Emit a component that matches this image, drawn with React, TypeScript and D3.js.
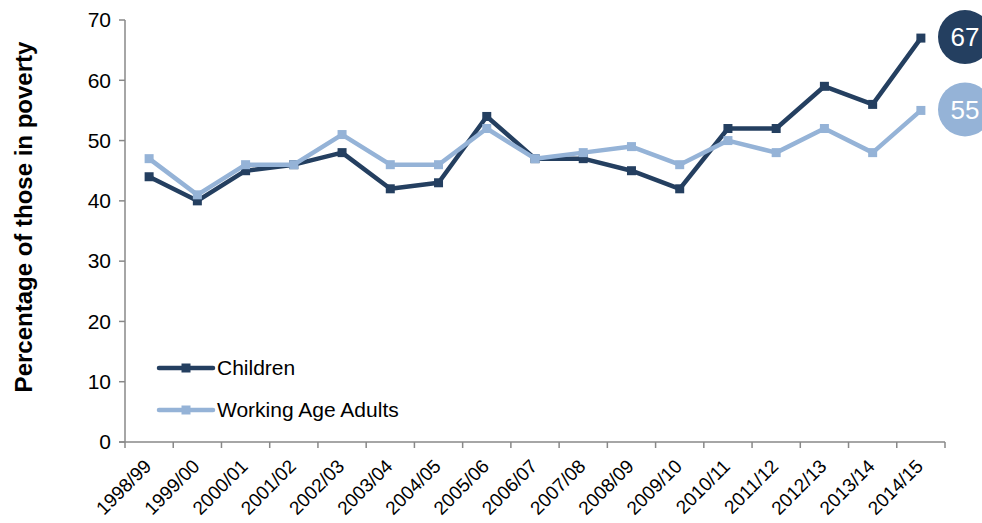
import * as d3 from 'd3';

const years = [
  '1998/99', '1999/00', '2000/01', '2001/02', '2002/03', '2003/04', '2004/05', '2005/06', '2006/07',
  '2007/08', '2008/09', '2009/10', '2010/11', '2011/12', '2012/13', '2013/14', '2014/15',
];
const children = [44, 40, 45, 46, 48, 42, 43, 54, 47, 47, 45, 42, 52, 52, 59, 56, 67];
const adults = [47, 41, 46, 46, 51, 46, 46, 52, 47, 48, 49, 46, 50, 48, 52, 48, 55];
const yTicks = [0, 10, 20, 30, 40, 50, 60, 70];

const DARK = '#243f60';
const LIGHT = '#95b3d7';

const series = [
  { name: 'Children', values: children, color: DARK },
  { name: 'Working Age Adults', values: adults, color: LIGHT },
];

export default function App() {
  const width = 982;
  const height = 523;
  const x = d3.scaleBand<string>().domain(years).range([125, 945]);
  const y = d3.scaleLinear().domain([0, 70]).range([442, 20]);
  const cx = (d: string) => (x(d) ?? 0) + x.bandwidth() / 2;
  const line = d3
    .line<number>()
    .x((_, i) => cx(years[i]))
    .y((v) => y(v));
  const font = '"Liberation Sans", Arial, sans-serif';

  return (
    <svg
      width={width}
      height={height}
      style={{ position: 'absolute', left: 0, top: 0, background: '#fff' }}
      fontFamily={font}
    >
      {/* y axis */}
      <line x1={125} x2={125} y1={y(70)} y2={y(0)} stroke="#888" strokeWidth={1.5} />
      {yTicks.map((t) => (
        <g key={t}>
          <line x1={119} x2={125} y1={y(t)} y2={y(t)} stroke="#888" strokeWidth={1.5} />
          <text x={111} y={y(t)} dy="0.35em" textAnchor="end" fontSize={21} fill="#000">
            {t}
          </text>
        </g>
      ))}
      <text
        transform={`translate(24,217) rotate(-90)`}
        textAnchor="middle"
        dy="0.35em"
        fontSize={24}
        fontWeight="bold"
      >
        Percentage of those in poverty
      </text>

      {/* x axis */}
      <line x1={119} x2={945} y1={y(0)} y2={y(0)} stroke="#888" strokeWidth={1.5} />
      {[...years.map((d) => x(d) ?? 0), 945].map((p, i) => (
        <line key={i} x1={p} x2={p} y1={y(0)} y2={y(0) + 6} stroke="#888" strokeWidth={1.5} />
      ))}
      {years.map((d) => (
        <text
          key={d}
          transform={`translate(${cx(d) - 6},${y(0) + 16}) rotate(-45)`}
          textAnchor="end"
          dy="0.7em"
          fontSize={19}
        >
          {d}
        </text>
      ))}

      {/* series */}
      {series.map((s) => (
        <g key={s.name}>
          <path d={line(s.values) ?? ''} fill="none" stroke={s.color} strokeWidth={4.5} strokeLinejoin="round" />
          {s.values.map((v, i) => (
            <rect key={i} x={cx(years[i]) - 4.5} y={y(v) - 4.5} width={9} height={9} fill={s.color} />
          ))}
        </g>
      ))}

      {/* end labels */}
      {series.map((s) => {
        const v = s.values[s.values.length - 1];
        return (
          <g key={s.name}>
            <circle cx={965} cy={y(v) - 1} r={27} fill={s.color} />
            <text x={965} y={y(v) - 1} dy="0.36em" textAnchor="middle" fill="#fff" fontSize={26}>
              {v}
            </text>
          </g>
        );
      })}

      {/* legend */}
      {series.map((s, i) => {
        const ly = 368 + i * 42;
        return (
          <g key={s.name}>
            <line x1={159} x2={213} y1={ly} y2={ly} stroke={s.color} strokeWidth={4.5} strokeLinecap="round" />
            <rect x={181.5} y={ly - 4.5} width={9} height={9} fill={s.color} />
            <text x={217} y={ly} dy="0.35em" fontSize={21}>
              {s.name}
            </text>
          </g>
        );
      })}
    </svg>
  );
}
